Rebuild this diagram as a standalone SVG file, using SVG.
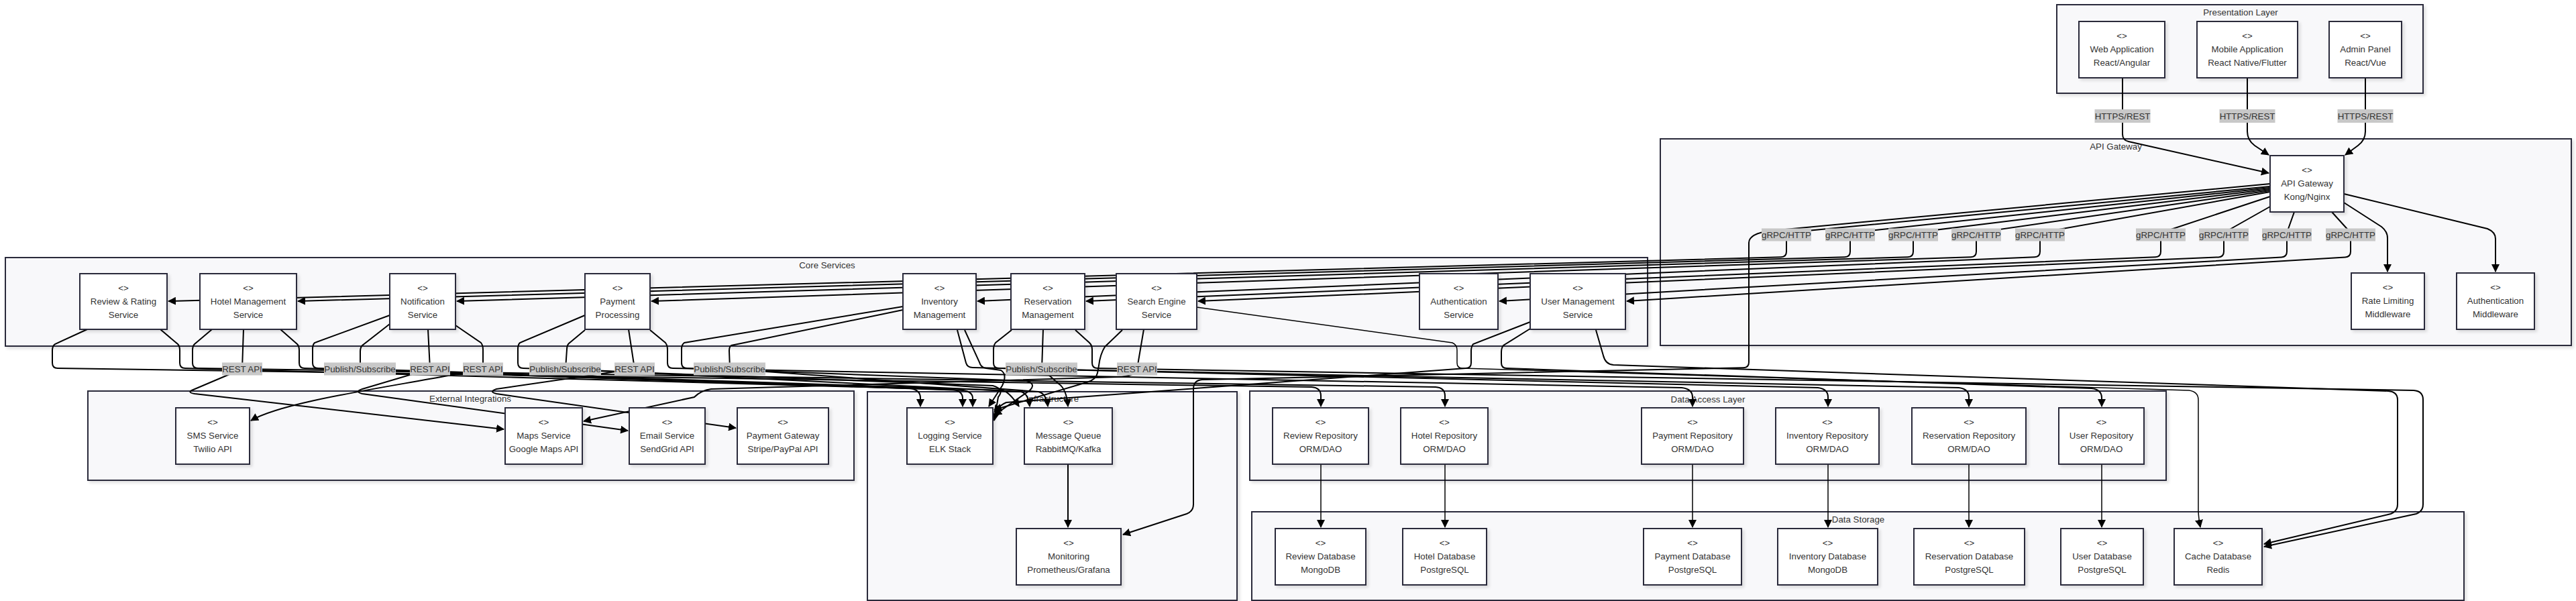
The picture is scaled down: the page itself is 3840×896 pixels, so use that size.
<svg xmlns="http://www.w3.org/2000/svg" width="3840" height="896" viewBox="0 0 3840 896">
<defs>
<style>
.cl{fill:#f8f8fa;stroke:#2b2b3b;stroke-width:2;filter:url(#sh)}
.nd{fill:#fff;stroke:#2b2b3b;stroke-width:2;filter:url(#sh)}
.t{font-family:"Liberation Sans",Arial,sans-serif;font-size:13.3px;fill:#333;text-anchor:middle;dominant-baseline:central}
.e{fill:none;stroke:#000;stroke-width:2;marker-end:url(#ah)}
.e1{fill:none;stroke:#000;stroke-width:1.5;marker-end:url(#ah)}
.lb{fill:#c8c8c8}
</style>
<filter id="sh" x="-5%" y="-5%" width="115%" height="120%"><feDropShadow dx="3" dy="3" stdDeviation="2" flood-color="#000" flood-opacity="0.12"/></filter>
<marker id="ah" markerUnits="userSpaceOnUse" markerWidth="12" markerHeight="12" viewBox="0 0 12 12" refX="11" refY="6" orient="auto"><path d="M0,0 L12,6 L0,12 z" fill="#000"/></marker>
</defs>
<rect width="3840" height="896" fill="#fff"/>

<g id="clusters">
<g id="c-presentation"><rect class="cl" x="3066" y="7" width="546" height="132"/><text class="t" x="3340" y="18">Presentation Layer</text></g>
<g id="c-gateway"><rect class="cl" x="2475" y="207" width="1358" height="308"/><text class="t" x="3154" y="218">API Gateway</text></g>
<g id="c-core"><rect class="cl" x="8" y="384" width="2448" height="132"/><text class="t" x="1233" y="395">Core Services</text></g>
<g id="c-external"><rect class="cl" x="131" y="583" width="1142" height="133"/><text class="t" x="701" y="594">External Integrations</text></g>
<g id="c-infra"><rect class="cl" x="1293" y="584" width="551" height="311"/><text class="t" x="1569" y="594">Infrastructure</text></g>
<g id="c-dal"><rect class="cl" x="1863" y="583" width="1366" height="133"/><text class="t" x="2546" y="595">Data Access Layer</text></g>
<g id="c-storage"><rect class="cl" x="1866" y="763" width="1807" height="132"/><text class="t" x="2770" y="774">Data Storage</text></g>
</g>

<g id="connectors">
<path class="e" d="M3164,116 L3164,200 Q3164,209 3173,211 L3382,258"/>
<path class="e" d="M3350,116 L3350,196 Q3350,209 3361,217 L3382,231"/>
<path class="e" d="M3526,116 L3526,196 Q3526,209 3515,217 L3496,231"/>
<path class="e" d="M3494,302 L3550,338 Q3559,345 3559,355 L3559,405"/>
<path class="e" d="M3494,289 L3708,341 Q3720,346 3720,356 L3720,405"/>
<path class="e" d="M3384,278 L2663,347 L2663,375 Q2663,383 2655,383.3 L251,449"/>
<path class="e" d="M3384,280 L2758,347 L2758,375 Q2758,383 2750,383.3 L444,449"/>
<path class="e" d="M3384,282 L2852,347 L2852,375 Q2852,383 2844,383.3 L681,449"/>
<path class="e" d="M3384,284 L2946,347 L2946,375 Q2946,383 2938,383.3 L971,449"/>
<path class="e" d="M3384,286 L3041,347 L3041,375 Q3041,383 3033,383.3 L1457,449"/>
<path class="e" d="M3384,293 L3221,347 L3221,375 Q3221,383 3213,383.3 L1619,449"/>
<path class="e" d="M3384,308 L3315,347 L3315,375 Q3315,383 3307,383.4 L1786,449"/>
<path class="e" d="M3420,316 L3409,347 L3409,375 Q3409,383 3401,383.5 L2235,449"/>
<path class="e" d="M3476,316 L3504,347 L3504,375 Q3504,383 3496,383.5 L2425,449"/>
<path class="e" d="M3384,274 L2640,344 Q2607,348 2607,362 L2607,540 Q2607,548 2599,548.2 L1792,566 Q1779,567 1779,580 L1779,752 Q1779,762 1769,766 L1674,797"/>
<path class="e" d="M1592,692 L1592,786"/>
<path class="e1" d="M1969,692 L1969,786"/>
<path class="e1" d="M2154,692 L2154,786"/>
<path class="e1" d="M2523,692 L2523,786"/>
<path class="e1" d="M2725,692 L2725,786"/>
<path class="e1" d="M2935,692 L2935,786"/>
<path class="e1" d="M3133,692 L3133,786"/>
<path class="e" d="M130,491 L82,513 Q78,516 78,522 L78,541 Q78,549 86,549 L1955,577 Q1969,578 1969,590 L1969,606"/>
<path class="e" d="M239,491 L265,513 Q268,516 268,522 L268,541 Q268,549 276,549 L1356,579 Q1372,581 1372,593 L1372,606"/>
<path class="e" d="M363,491 L361,550 L288,581 Q278,585 290,587 L751,640"/>
<path class="e" d="M316,491 L290,513 Q287,516 287,522 L287,541 Q287,549 295,549 L2140,577 Q2154,578 2154,590 L2154,606"/>
<path class="e" d="M418,491 L443,513 Q446,516 446,522 L446,541 Q446,549 454,549 L1421,581 Q1435,583 1435,594 L1435,606"/>
<path class="e" d="M581,483 L540,515 Q537,518 537,524 L537,550 L1495,582 Q1505,585 1519,606"/>
<path class="e" d="M638,491 L641,550 L540,580 Q528,584 540,587 L936,642"/>
<path class="e" d="M679,485 L717,511 Q720,515 720,521 L720,550 L668,560 C560,580 420,600 374,627"/>
<path class="e" d="M581,470 L469,511 Q466,514 466,520 L466,541 Q466,549 474,549 L1436,582 Q1450,584 1450,594 L1450,606"/>
<path class="e" d="M872,492 L848,512 Q845,515 845,521 L843,550 L1522,584 Q1533,587 1535,606"/>
<path class="e" d="M937,491 L946,550 L740,580 Q728,584 740,587 L1097,638"/>
<path class="e" d="M969,492 L992,511 Q995,515 995,521 L995,541 Q995,549 1003,549 L2507,578 Q2523,580 2523,592 L2523,606"/>
<path class="e" d="M872,470 L775,511 Q772,514 772,520 L772,541 Q772,549 780,549 L1480,575 Q1498,580 1488,592 L1482,627"/>
<path class="e" d="M1346,462 L1090,515 Q1087,517 1087,523 L1088,550 L1548,584 Q1560,587 1562,606"/>
<path class="e" d="M1346,457 L1020,511 Q1016,514 1016,520 L1016,541 Q1016,549 1024,549 L1530,568 Q1545,572 1535,582 L1482,619"/>
<path class="e" d="M1427,492 L1440,541 Q1442,548 1450,548 L2710,578 Q2725,580 2725,592 L2725,606"/>
<path class="e" d="M1438,492 L1460,540 Q1462,548 1470,549 L1492,552 Q1502,558 1494,575 L1474,606"/>
<path class="e" d="M1508,492 L1484,511 Q1481,515 1481,521 L1481,541 Q1481,549 1489,549 L2920,578 Q2935,580 2935,592 L2935,606"/>
<path class="e" d="M1555,491 L1553,550 L1578,572 Q1590,580 1592,606"/>
<path class="e" d="M1603,492 L1624,511 Q1628,515 1628,521 L1628,541 Q1628,549 1636,549 L3598,582 Q3612,583 3612,596 L3612,752 Q3612,762 3602,766 L3375,815"/>
<path class="e" d="M1705,491 L1695,550 L1688,558 Q1680,562 1665,562 L1060,580 Q1045,582 1035,592 L870,628"/>
<path class="e" d="M1673,492 L1647,517 Q1640,528 1638,545 L1636,556 Q1634,566 1620,570 L1482,611"/>
<path class="e1" d="M1784,458 L2165,511 Q2172,514 2172,522 L2172,541 Q2172,549 2180,549 L3263,582 Q3277,584 3277,596 L3277,760 Q3277,770 3280,786"/>
<path class="e" d="M2281,480 L2196,513 Q2193,517 2193,523 L2193,541 Q2193,549 2185,549 L1500,600 Q1490,604 1482,615"/>
<path class="e" d="M2281,490 L2241,515 Q2238,519 2238,525 L2238,541 Q2238,549 2246,549 L3118,579 Q3133,581 3133,593 L3133,606"/>
<path class="e" d="M2379,492 L2390,530 Q2393,543 2405,544 L3560,583 Q3574,584 3574,596 L3574,752 Q3574,762 3564,766 L3375,811"/>
</g>

<g id="edge-labels">
<g><rect class="lb" x="3122.5" y="163" width="83" height="20"/><text class="t" x="3164" y="173">HTTPS/REST</text></g>
<g><rect class="lb" x="3308.5" y="163" width="83" height="20"/><text class="t" x="3350" y="173">HTTPS/REST</text></g>
<g><rect class="lb" x="3484.5" y="163" width="83" height="20"/><text class="t" x="3526" y="173">HTTPS/REST</text></g>
<g><rect class="lb" x="2626" y="340.5" width="74" height="19"/><text class="t" x="2663" y="350">gRPC/HTTP</text></g>
<g><rect class="lb" x="2721" y="340.5" width="74" height="19"/><text class="t" x="2758" y="350">gRPC/HTTP</text></g>
<g><rect class="lb" x="2815" y="340.5" width="74" height="19"/><text class="t" x="2852" y="350">gRPC/HTTP</text></g>
<g><rect class="lb" x="2909" y="340.5" width="74" height="19"/><text class="t" x="2946" y="350">gRPC/HTTP</text></g>
<g><rect class="lb" x="3004" y="340.5" width="74" height="19"/><text class="t" x="3041" y="350">gRPC/HTTP</text></g>
<g><rect class="lb" x="3184" y="340.5" width="74" height="19"/><text class="t" x="3221" y="350">gRPC/HTTP</text></g>
<g><rect class="lb" x="3278" y="340.5" width="74" height="19"/><text class="t" x="3315" y="350">gRPC/HTTP</text></g>
<g><rect class="lb" x="3372" y="340.5" width="74" height="19"/><text class="t" x="3409" y="350">gRPC/HTTP</text></g>
<g><rect class="lb" x="3467" y="340.5" width="74" height="19"/><text class="t" x="3504" y="350">gRPC/HTTP</text></g>
<g><rect class="lb" x="331" y="540.5" width="60" height="19"/><text class="t" x="361" y="550">REST API</text></g>
<g><rect class="lb" x="483" y="540.5" width="107" height="19"/><text class="t" x="536.5" y="550">Publish/Subscribe</text></g>
<g><rect class="lb" x="611" y="540.5" width="60" height="19"/><text class="t" x="641" y="550">REST API</text></g>
<g><rect class="lb" x="690" y="540.5" width="60" height="19"/><text class="t" x="720" y="550">REST API</text></g>
<g><rect class="lb" x="789" y="540.5" width="107" height="19"/><text class="t" x="842.5" y="550">Publish/Subscribe</text></g>
<g><rect class="lb" x="916" y="540.5" width="60" height="19"/><text class="t" x="946" y="550">REST API</text></g>
<g><rect class="lb" x="1034" y="540.5" width="107" height="19"/><text class="t" x="1087.5" y="550">Publish/Subscribe</text></g>
<g><rect class="lb" x="1499" y="540.5" width="107" height="19"/><text class="t" x="1552.5" y="550">Publish/Subscribe</text></g>
<g><rect class="lb" x="1665" y="540.5" width="60" height="19"/><text class="t" x="1695" y="550">REST API</text></g>
</g>

<g id="n-web"><rect class="nd" x="3099" y="32" width="128" height="84"/><text class="t"><tspan x="3163" y="53">&lt;&gt;</tspan><tspan x="3163" y="73">Web Application</tspan><tspan x="3163" y="93">React/Angular</tspan></text></g>
<g id="n-mobile"><rect class="nd" x="3275" y="32" width="150" height="84"/><text class="t"><tspan x="3350" y="53">&lt;&gt;</tspan><tspan x="3350" y="73">Mobile Application</tspan><tspan x="3350" y="93">React Native/Flutter</tspan></text></g>
<g id="n-admin"><rect class="nd" x="3472" y="32" width="108" height="84"/><text class="t"><tspan x="3526" y="53">&lt;&gt;</tspan><tspan x="3526" y="73">Admin Panel</tspan><tspan x="3526" y="93">React/Vue</tspan></text></g>
<g id="n-gateway"><rect class="nd" x="3384" y="232" width="110" height="84"/><text class="t"><tspan x="3439" y="253">&lt;&gt;</tspan><tspan x="3439" y="273">API Gateway</tspan><tspan x="3439" y="293">Kong/Nginx</tspan></text></g>
<g id="n-ratelimit"><rect class="nd" x="3505" y="407" width="109" height="84"/><text class="t"><tspan x="3559.5" y="428">&lt;&gt;</tspan><tspan x="3559.5" y="448">Rate Limiting</tspan><tspan x="3559.5" y="468">Middleware</tspan></text></g>
<g id="n-authmw"><rect class="nd" x="3662" y="407" width="116" height="84"/><text class="t"><tspan x="3720" y="428">&lt;&gt;</tspan><tspan x="3720" y="448">Authentication</tspan><tspan x="3720" y="468">Middleware</tspan></text></g>

<g id="n-review"><rect class="nd" x="119" y="408" width="130" height="83"/><text class="t"><tspan x="184" y="429">&lt;&gt;</tspan><tspan x="184" y="449">Review &amp; Rating</tspan><tspan x="184" y="469">Service</tspan></text></g>
<g id="n-hotel"><rect class="nd" x="298" y="408" width="144" height="83"/><text class="t"><tspan x="370" y="429">&lt;&gt;</tspan><tspan x="370" y="449">Hotel Management</tspan><tspan x="370" y="469">Service</tspan></text></g>
<g id="n-notification"><rect class="nd" x="581" y="408" width="98" height="83"/><text class="t"><tspan x="630" y="429">&lt;&gt;</tspan><tspan x="630" y="449">Notification</tspan><tspan x="630" y="469">Service</tspan></text></g>
<g id="n-payment"><rect class="nd" x="872" y="408" width="97" height="83"/><text class="t"><tspan x="920.5" y="429">&lt;&gt;</tspan><tspan x="920.5" y="449">Payment</tspan><tspan x="920.5" y="469">Processing</tspan></text></g>
<g id="n-inventory"><rect class="nd" x="1346" y="408" width="109" height="83"/><text class="t"><tspan x="1400.5" y="429">&lt;&gt;</tspan><tspan x="1400.5" y="449">Inventory</tspan><tspan x="1400.5" y="469">Management</tspan></text></g>
<g id="n-reservation"><rect class="nd" x="1507" y="408" width="110" height="83"/><text class="t"><tspan x="1562" y="429">&lt;&gt;</tspan><tspan x="1562" y="449">Reservation</tspan><tspan x="1562" y="469">Management</tspan></text></g>
<g id="n-search"><rect class="nd" x="1664" y="408" width="120" height="83"/><text class="t"><tspan x="1724" y="429">&lt;&gt;</tspan><tspan x="1724" y="449">Search Engine</tspan><tspan x="1724" y="469">Service</tspan></text></g>
<g id="n-auth"><rect class="nd" x="2116" y="408" width="117" height="83"/><text class="t"><tspan x="2174.5" y="429">&lt;&gt;</tspan><tspan x="2174.5" y="449">Authentication</tspan><tspan x="2174.5" y="469">Service</tspan></text></g>
<g id="n-user"><rect class="nd" x="2281" y="408" width="142" height="83"/><text class="t"><tspan x="2352" y="429">&lt;&gt;</tspan><tspan x="2352" y="449">User Management</tspan><tspan x="2352" y="469">Service</tspan></text></g>

<g id="n-sms"><rect class="nd" x="262" y="608" width="110" height="84"/><text class="t"><tspan x="317" y="629">&lt;&gt;</tspan><tspan x="317" y="649">SMS Service</tspan><tspan x="317" y="669">Twilio API</tspan></text></g>
<g id="n-maps"><rect class="nd" x="753" y="608" width="115" height="84"/><text class="t"><tspan x="810.5" y="629">&lt;&gt;</tspan><tspan x="810.5" y="649">Maps Service</tspan><tspan x="810.5" y="669">Google Maps API</tspan></text></g>
<g id="n-email"><rect class="nd" x="938" y="608" width="113" height="84"/><text class="t"><tspan x="994.5" y="629">&lt;&gt;</tspan><tspan x="994.5" y="649">Email Service</tspan><tspan x="994.5" y="669">SendGrid API</tspan></text></g>
<g id="n-paygw"><rect class="nd" x="1099" y="608" width="136" height="84"/><text class="t"><tspan x="1167" y="629">&lt;&gt;</tspan><tspan x="1167" y="649">Payment Gateway</tspan><tspan x="1167" y="669">Stripe/PayPal API</tspan></text></g>

<g id="n-logging"><rect class="nd" x="1352" y="608" width="128" height="84"/><text class="t"><tspan x="1416" y="629">&lt;&gt;</tspan><tspan x="1416" y="649">Logging Service</tspan><tspan x="1416" y="669">ELK Stack</tspan></text></g>
<g id="n-mq"><rect class="nd" x="1527" y="608" width="131" height="84"/><text class="t"><tspan x="1592.5" y="629">&lt;&gt;</tspan><tspan x="1592.5" y="649">Message Queue</tspan><tspan x="1592.5" y="669">RabbitMQ/Kafka</tspan></text></g>
<g id="n-monitoring"><rect class="nd" x="1515" y="788" width="156" height="84"/><text class="t"><tspan x="1593" y="809">&lt;&gt;</tspan><tspan x="1593" y="829">Monitoring</tspan><tspan x="1593" y="849">Prometheus/Grafana</tspan></text></g>

<g id="n-reviewrepo"><rect class="nd" x="1897" y="608" width="143" height="84"/><text class="t"><tspan x="1968.5" y="629">&lt;&gt;</tspan><tspan x="1968.5" y="649">Review Repository</tspan><tspan x="1968.5" y="669">ORM/DAO</tspan></text></g>
<g id="n-hotelrepo"><rect class="nd" x="2088" y="608" width="130" height="84"/><text class="t"><tspan x="2153" y="629">&lt;&gt;</tspan><tspan x="2153" y="649">Hotel Repository</tspan><tspan x="2153" y="669">ORM/DAO</tspan></text></g>
<g id="n-paymentrepo"><rect class="nd" x="2447" y="608" width="152" height="84"/><text class="t"><tspan x="2523" y="629">&lt;&gt;</tspan><tspan x="2523" y="649">Payment Repository</tspan><tspan x="2523" y="669">ORM/DAO</tspan></text></g>
<g id="n-inventoryrepo"><rect class="nd" x="2647" y="608" width="154" height="84"/><text class="t"><tspan x="2724" y="629">&lt;&gt;</tspan><tspan x="2724" y="649">Inventory Repository</tspan><tspan x="2724" y="669">ORM/DAO</tspan></text></g>
<g id="n-reservationrepo"><rect class="nd" x="2850" y="608" width="170" height="84"/><text class="t"><tspan x="2935" y="629">&lt;&gt;</tspan><tspan x="2935" y="649">Reservation Repository</tspan><tspan x="2935" y="669">ORM/DAO</tspan></text></g>
<g id="n-userrepo"><rect class="nd" x="3069" y="608" width="127" height="84"/><text class="t"><tspan x="3132.5" y="629">&lt;&gt;</tspan><tspan x="3132.5" y="649">User Repository</tspan><tspan x="3132.5" y="669">ORM/DAO</tspan></text></g>

<g id="n-reviewdb"><rect class="nd" x="1901" y="788" width="135" height="84"/><text class="t"><tspan x="1968.5" y="809">&lt;&gt;</tspan><tspan x="1968.5" y="829">Review Database</tspan><tspan x="1968.5" y="849">MongoDB</tspan></text></g>
<g id="n-hoteldb"><rect class="nd" x="2091" y="788" width="125" height="84"/><text class="t"><tspan x="2153.5" y="809">&lt;&gt;</tspan><tspan x="2153.5" y="829">Hotel Database</tspan><tspan x="2153.5" y="849">PostgreSQL</tspan></text></g>
<g id="n-paymentdb"><rect class="nd" x="2450" y="788" width="146" height="84"/><text class="t"><tspan x="2523" y="809">&lt;&gt;</tspan><tspan x="2523" y="829">Payment Database</tspan><tspan x="2523" y="849">PostgreSQL</tspan></text></g>
<g id="n-inventorydb"><rect class="nd" x="2650" y="788" width="149" height="84"/><text class="t"><tspan x="2724.5" y="809">&lt;&gt;</tspan><tspan x="2724.5" y="829">Inventory Database</tspan><tspan x="2724.5" y="849">MongoDB</tspan></text></g>
<g id="n-reservationdb"><rect class="nd" x="2853" y="788" width="165" height="84"/><text class="t"><tspan x="2935.5" y="809">&lt;&gt;</tspan><tspan x="2935.5" y="829">Reservation Database</tspan><tspan x="2935.5" y="849">PostgreSQL</tspan></text></g>
<g id="n-userdb"><rect class="nd" x="3072" y="788" width="123" height="84"/><text class="t"><tspan x="3133.5" y="809">&lt;&gt;</tspan><tspan x="3133.5" y="829">User Database</tspan><tspan x="3133.5" y="849">PostgreSQL</tspan></text></g>
<g id="n-cachedb"><rect class="nd" x="3241" y="788" width="131" height="84"/><text class="t"><tspan x="3306.5" y="809">&lt;&gt;</tspan><tspan x="3306.5" y="829">Cache Database</tspan><tspan x="3306.5" y="849">Redis</tspan></text></g>
</svg>
